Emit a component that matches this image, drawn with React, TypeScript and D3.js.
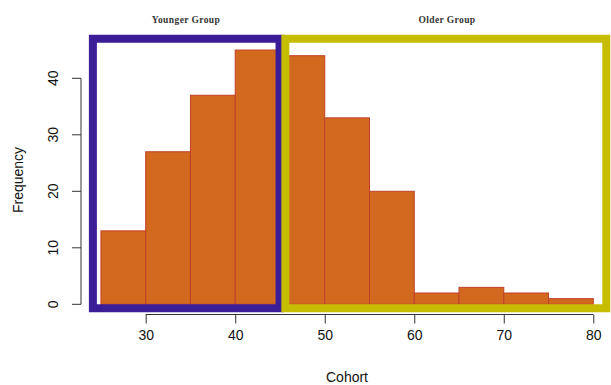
import * as d3 from "d3";
import React from "react";

// histogram bins (lower edges) and counts
const binStarts = [25, 30, 35, 40, 45, 50, 55, 60, 65, 70, 75];
const counts = [13, 27, 37, 45, 44, 33, 20, 2, 3, 2, 1];
const binWidth = 5;
const xTicks = [30, 40, 50, 60, 70, 80];
const yTicks = [0, 10, 20, 30, 40];
const groupNames = ["Younger Group", "Older Group"];
// group boxes in data units [x0, x1, y0, y1]
const groupBoxes = [
  [24.1, 44.95, -0.7, 47],
  [45.6, 81.45, -0.7, 47],
];
const groupColors = ["#3b1d98", "#c6bd00"];

const App = () => {
  const ref = React.useRef<SVGSVGElement>(null);

  React.useEffect(() => {
    const width = 611,
      height = 385;
    const svg = d3.select(ref.current);
    svg.selectAll("*").remove();
    svg.attr("width", width).attr("height", height);

    const x = d3.scaleLinear().domain([30, 80]).range([145.7, 593.3]);
    const y = d3.scaleLinear().domain([0, 40]).range([304.3, 78.3]);

    const data = binStarts.map((b, i) => ({ b, n: counts[i] }));

    svg
      .append("g")
      .selectAll("rect")
      .data(data)
      .enter()
      .append("rect")
      .attr("x", (d) => x(d.b))
      .attr("width", (d) => x(d.b + binWidth) - x(d.b))
      .attr("y", (d) => y(d.n))
      .attr("height", (d) => y(0) - y(d.n))
      .attr("fill", "#d3691f")
      .attr("stroke", "#c0402a")
      .attr("stroke-width", 1);

    // group boxes drawn on top
    svg
      .append("g")
      .selectAll("rect")
      .data(groupBoxes)
      .enter()
      .append("rect")
      .attr("x", (d) => x(d[0]))
      .attr("width", (d) => x(d[1]) - x(d[0]))
      .attr("y", (d) => y(d[3]))
      .attr("height", (d) => y(d[2]) - y(d[3]))
      .attr("fill", "none")
      .attr("stroke", (_, i) => groupColors[i])
      .attr("stroke-width", 8);

    svg
      .append("g")
      .selectAll("text")
      .data(groupNames)
      .enter()
      .append("text")
      .attr("x", (_, i) => (i === 0 ? 186 : 447))
      .attr("y", 23)
      .attr("text-anchor", "middle")
      .attr("font-family", "Liberation Serif")
      .attr("font-weight", "bold")
      .attr("font-size", 9.5)
      .attr("letter-spacing", 0.4)
      .attr("fill", "#333")
      .text((d) => d);

    // x axis
    const xAxis = svg
      .append("g")
      .attr("transform", `translate(0, 314.5)`)
      .call(d3.axisBottom(x).tickValues(xTicks).tickSize(9).tickPadding(7));
    // y axis
    const yAxis = svg
      .append("g")
      .attr("transform", `translate(81, 0)`)
      .call(d3.axisLeft(y).tickValues(yTicks).tickSize(9).tickPadding(7));

    [xAxis, yAxis].forEach((g) => {
      g.selectAll("path").attr("stroke", "#333");
      g.selectAll("line").attr("stroke", "#333");
      g.selectAll("text")
        .attr("font-family", "Liberation Sans")
        .attr("font-size", 14)
        .attr("fill", "#111");
    });
    xAxis.selectAll("path").attr("d", `M${x(30)},0H${x(80)}`);
    yAxis.selectAll("path").attr("d", `M0,${y(0)}V${y(40)}`);
    yAxis
      .selectAll("text")
      .attr("text-anchor", "middle")
      .attr("dy", null)
      .attr("x", null)
      .attr("transform", (d) => `translate(-27, ${y(d as number)}) rotate(-90)`)
      .attr("y", 0)
      .attr("dominant-baseline", "middle");
    yAxis.selectAll(".tick").attr("transform", null);
    yAxis
      .selectAll(".tick line")
      .attr("y1", (d) => y(d as number))
      .attr("y2", (d) => y(d as number));

    svg
      .append("text")
      .attr("transform", "translate(19, 180) rotate(-90)")
      .attr("text-anchor", "middle")
      .attr("dominant-baseline", "middle")
      .attr("font-family", "Liberation Sans")
      .attr("font-size", 14)
      .attr("fill", "#111")
      .text("Frequency");

    svg
      .append("text")
      .attr("x", 347)
      .attr("y", 378)
      .attr("text-anchor", "middle")
      .attr("dominant-baseline", "middle")
      .attr("font-family", "Liberation Sans")
      .attr("font-size", 14)
      .attr("fill", "#111")
      .text("Cohort");
  }, []);

  return <svg ref={ref} style={{ position: "absolute", left: 0, top: 0 }} />;
};

export default App;
